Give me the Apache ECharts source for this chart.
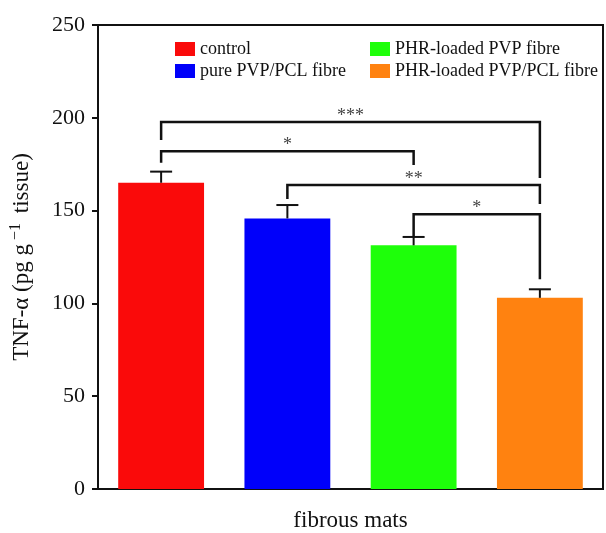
<!DOCTYPE html>
<html>
<head>
<meta charset="utf-8">
<script src="https://cdn.jsdelivr.net/npm/echarts@6/dist/echarts.min.js"></script>
<style>
  html, body { margin: 0; padding: 0; background: #fff; }
  #chart { width: 606px; height: 533px; }
</style>
</head>
<body>
<div id="chart"></div>
<script>
// values
const groups = ['control', 'pure PVP/PCL fibre', 'PHR-loaded PVP fibre', 'PHR-loaded PVP/PCL fibre'];
const means = [165, 145.8, 131.3, 103];
const errTop = [171, 153, 135.8, 107.6];
const colors = ['#fa0a0a', '#0000fa', '#1eff0a', '#ff8210'];
const yTicks = [0, 50, 100, 150, 200, 250];

// significance brackets: [from, to, line level, left leg end, right leg end, stars]
const brackets = [
  [0, 3, 197.7, 188, 167.6, '***'],
  [0, 2, 182, 175.8, 174.6, '*'],
  [1, 3, 163.8, 156.3, 153.6, '**'],
  [2, 3, 148, 136, 113, '*']
];

const serif = 'Liberation Serif';
const chart = echarts.init(document.getElementById('chart'));

const barSeries = groups.map((g, i) => ({
  name: g,
  type: 'bar',
  stack: 'all',
  barWidth: '68%',
  itemStyle: { color: colors[i] },
  data: groups.map((_, j) => (j === i ? means[i] : '-')),
  z: 2
}));

const errSeries = {
  type: 'custom',
  name: 'err',
  z: 5,
  data: means.map((m, i) => [i, m, errTop[i]]),
  renderItem: (params, api) => {
    const lo = api.coord([api.value(0), api.value(1)]);
    const hi = api.coord([api.value(0), api.value(2)]);
    const w = 11;
    return {
      type: 'group',
      children: [
        { type: 'line', shape: { x1: hi[0], y1: lo[1], x2: hi[0], y2: hi[1] }, style: { stroke: '#111', lineWidth: 2 } },
        { type: 'line', shape: { x1: hi[0] - w, y1: hi[1], x2: hi[0] + w, y2: hi[1] }, style: { stroke: '#111', lineWidth: 2 } }
      ]
    };
  }
};

const bracketSeries = {
  type: 'custom',
  name: 'sig',
  z: 6,
  data: brackets.map(b => b.slice(0, 5)),
  renderItem: (params, api) => {
    const b = brackets[params.dataIndex];
    const a1 = api.coord([b[0], b[3]]);
    const a2 = api.coord([b[0], b[2]]);
    const a3 = api.coord([b[1], b[2]]);
    const a4 = api.coord([b[1], b[4]]);
    return {
      type: 'group',
      children: [
        { type: 'polyline', shape: { points: [a1, a2, a3, a4] }, style: { stroke: '#111', lineWidth: 2.5, fill: null } },
        { type: 'text', x: (a2[0] + a3[0]) / 2, y: a2[1] + 3,
          style: { text: b[5], font: '18px ' + serif, fill: '#444', align: 'center', verticalAlign: 'bottom' } }
      ]
    };
  }
};

const legendText = { fontFamily: serif, fontSize: 18, color: '#111' };

chart.setOption({
  animation: false,
  grid: { left: 98, right: 3, top: 25, bottom: 44, outerBoundsMode: 'none',
    show: true, borderColor: '#111', borderWidth: 2 },
  legend: [
    { data: groups.slice(0, 2), orient: 'vertical', left: 170, top: 35, itemWidth: 20, itemHeight: 14, itemGap: 4,
      icon: 'rect', textStyle: legendText },
    { data: groups.slice(2), orient: 'vertical', left: 365, top: 35, itemWidth: 20, itemHeight: 14, itemGap: 4,
      icon: 'rect', textStyle: legendText }
  ],
  xAxis: {
    type: 'category',
    data: groups,
    name: 'fibrous mats',
    nameLocation: 'middle',
    nameGap: 20,
    nameTextStyle: { fontFamily: serif, fontSize: 23, color: '#111' },
    axisLine: { lineStyle: { color: '#111', width: 2 } },
    axisTick: { alignWithLabel: true, length: 6, lineStyle: { color: '#111', width: 2 } },
    axisLabel: { show: false }
  },
  yAxis: {
    type: 'value',
    min: yTicks[0],
    max: yTicks[yTicks.length - 1],
    interval: 50,
    name: 'TNF-α (pg g{sup|−1} tissue)',
    nameLocation: 'middle',
    nameGap: 62,
    nameTextStyle: {
      fontFamily: serif, fontSize: 23, color: '#111',
      rich: { sup: { fontFamily: serif, fontSize: 16, color: '#111', padding: [0, 4, 12, 4] } }
    },
    axisLine: { show: true, lineStyle: { color: '#111', width: 2 } },
    axisTick: { show: true, length: 6, lineStyle: { color: '#111', width: 2 } },
    axisLabel: { fontFamily: serif, fontSize: 22, color: '#111', margin: 13 },
    splitLine: { show: false }
  },
  series: [...barSeries, errSeries, bracketSeries]
});
</script>
</body>
</html>
